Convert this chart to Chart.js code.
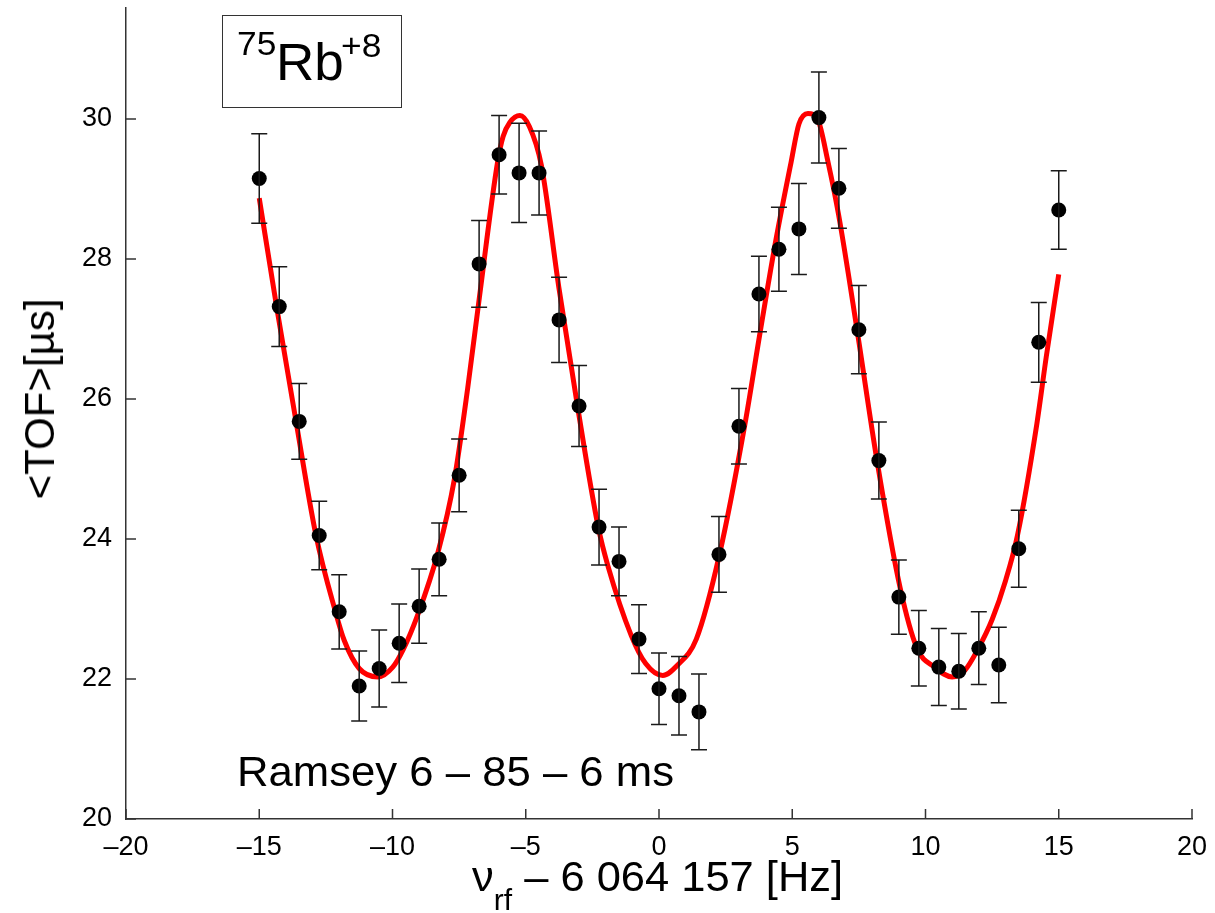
<!DOCTYPE html>
<html>
<head>
<meta charset="utf-8">
<script src="https://cdn.jsdelivr.net/npm/chart.js@4/dist/chart.umd.min.js"></script>
<style>
  html, body { margin: 0; padding: 0; background: #ffffff; }
  #wrap { position: relative; width: 1215px; height: 913px; overflow: hidden;
          font-family: "Liberation Sans", Arial, Helvetica, sans-serif; color: #000; }
  #c { position: absolute; left: 0; top: 0; }
  .lbl { position: absolute; white-space: nowrap; line-height: 1; transform-origin: 0 0; }
  #ylab { font-size: 42px; left: 40px; top: 399px; transform-origin: 50% 50%;
          transform: translate(-50%, -50%) rotate(-90deg); }
  #xlab { font-size: 42px; left: 472px; top: 856px; transform: scaleX(1.035); }
  #xlab .sub { font-size: 29px; position: relative; top: 19px; }
  #ionbox { position: absolute; left: 222px; top: 15px; width: 180px; height: 93px;
            border: 1.5px solid #333; box-sizing: border-box; }
  #iso { font-size: 34px; left: 237px; top: 26px; transform: scaleX(1.04); }
  #elem { font-size: 51px; left: 276px; top: 37px; transform: scaleX(1.04); }
  #chg { font-size: 34px; left: 341px; top: 28px; transform: scaleX(1.04); }
  #note { font-size: 42px; left: 237px; top: 751px; transform: scaleX(1.04); }
</style>
</head>
<body>
<div id="wrap">
  <canvas id="c" width="1215" height="913"></canvas>
  <div id="ylab" class="lbl">&lt;TOF&gt;[µs]</div>
  <div id="xlab" class="lbl">ν<span class="sub">rf</span> – 6 064 157 [Hz]</div>
  <div id="ionbox"></div>
  <div id="iso" class="lbl">75</div>
  <div id="elem" class="lbl">Rb</div>
  <div id="chg" class="lbl">+8</div>
  <div id="note" class="lbl">Ramsey 6 – 85 – 6 ms</div>
</div>
<script>
// Measured time of flight versus rf detuning (Hz)
const freq = [-15, -14.25, -13.5, -12.75, -12, -11.25, -10.5, -9.75, -9, -8.25,
              -7.5, -6.75, -6, -5.25, -4.5, -3.75, -3, -2.25, -1.5, -0.75,
              0, 0.75, 1.5, 2.25, 3, 3.75, 4.5, 5.25, 6, 6.75,
              7.5, 8.25, 9, 9.75, 10.5, 11.25, 12, 12.75, 13.5, 14.25, 15];
const tof = [29.15, 27.32, 25.68, 24.05, 22.96, 21.90, 22.15, 22.51, 23.04, 23.71,
             24.91, 27.93, 29.49, 29.23, 29.23, 27.13, 25.90, 24.17, 23.68, 22.57,
             21.86, 21.76, 21.53, 23.78, 25.61, 27.50, 28.14, 28.43, 30.02, 29.01,
             26.99, 25.12, 23.17, 22.44, 22.17, 22.11, 22.44, 22.20, 23.86, 26.81, 28.70];
const tofErr = [0.64, 0.57, 0.54, 0.49, 0.53, 0.50, 0.55, 0.56, 0.53, 0.52,
                0.52, 0.62, 0.56, 0.71, 0.60, 0.61, 0.58, 0.54, 0.49, 0.49,
                0.51, 0.56, 0.54, 0.54, 0.54, 0.54, 0.60, 0.65, 0.65, 0.57,
                0.63, 0.55, 0.53, 0.54, 0.55, 0.54, 0.52, 0.54, 0.55, 0.57, 0.56];

// Ramsey fit curve, sampled along the fitted line
const fitFreq = [-15.00, -14.35, -13.62, -12.87, -12.14, -11.81, -11.25, -10.55, -9.99, -9.60,
                 -9.05, -8.30, -7.68, -7.18, -6.74, -6.05, -5.85, -5.60, -5.22, -4.86,
                 -4.42, -3.76, -3.08, -2.28, -1.92, -1.04, -0.50, 0.14, 0.70, 1.40,
                 2.27, 3.21, 3.81, 4.40, 4.96, 5.25, 5.59, 5.96, 6.34, 6.74,
                 7.43, 8.18, 9.05, 9.68, 10.34, 11.00, 11.47, 12.00, 12.50, 13.00,
                 13.45, 14.18, 14.53, 15.00];
const fitTof = [28.87, 27.32, 25.68, 24.05, 22.96, 22.55, 22.15, 22.03, 22.17, 22.42,
                22.92, 23.80, 24.85, 26.15, 27.45, 29.40, 29.75, 29.95, 30.05, 29.89,
                29.35, 27.60, 25.95, 24.17, 23.62, 22.62, 22.22, 22.05, 22.20, 22.57,
                23.78, 25.61, 26.99, 28.30, 29.39, 29.93, 30.08, 29.99, 29.39, 28.63,
                26.99, 25.12, 23.30, 22.44, 22.17, 22.03, 22.12, 22.45, 22.85, 23.40,
                24.05, 25.65, 26.60, 27.78];

const xTicks = [-20, -15, -10, -5, 0, 5, 10, 15, 20];
const yTicks = [20, 22, 24, 26, 28, 30];

const FONT = '"Liberation Sans", Arial, Helvetica, sans-serif';
const AXIS_COLOR = '#333333';

const fmtTick = v => (v < 0 ? '\u2013' + Math.abs(v) : String(v));

// Vertical error bars with caps
const errorBars = {
  id: 'errorBars',
  afterDatasetsDraw(chart) {
    const { ctx, scales: { x, y } } = chart;
    const cap = 8;
    ctx.save();
    ctx.strokeStyle = '#1a1a1a';
    ctx.lineWidth = 1.5;
    freq.forEach((f, i) => {
      const px = x.getPixelForValue(f);
      const hi = y.getPixelForValue(tof[i] + tofErr[i]);
      const lo = y.getPixelForValue(tof[i] - tofErr[i]);
      ctx.beginPath();
      ctx.moveTo(px, hi); ctx.lineTo(px, lo);
      ctx.moveTo(px - cap, hi); ctx.lineTo(px + cap, hi);
      ctx.moveTo(px - cap, lo); ctx.lineTo(px + cap, lo);
      ctx.stroke();
    });
    ctx.restore();
  }
};

// Tick marks pointing into the plot area
const innerTicks = {
  id: 'innerTicks',
  afterDraw(chart) {
    const { ctx, chartArea: a, scales: { x, y } } = chart;
    const len = 10;
    ctx.save();
    ctx.strokeStyle = AXIS_COLOR;
    ctx.lineWidth = 1.5;
    ctx.beginPath();
    x.ticks.forEach(t => {
      const px = x.getPixelForValue(t.value);
      ctx.moveTo(px, a.bottom); ctx.lineTo(px, a.bottom - len);
    });
    y.ticks.forEach(t => {
      const py = y.getPixelForValue(t.value);
      ctx.moveTo(a.left, py); ctx.lineTo(a.left + len, py);
    });
    ctx.stroke();
    ctx.restore();
  }
};

const noPad = s => { s.paddingLeft = 0; s.paddingRight = 0; s.paddingTop = 0; s.paddingBottom = 0; };

new Chart(document.getElementById('c'), {
  type: 'scatter',
  data: {
    datasets: [
      {
        type: 'line',
        label: 'fit',
        data: fitFreq.map((f, i) => ({ x: f, y: fitTof[i] })),
        borderColor: '#ff0000',
        borderWidth: 5,
        pointRadius: 0,
        fill: false,
        cubicInterpolationMode: 'monotone',
        borderJoinStyle: 'round',
        borderCapStyle: 'butt',
        order: 2
      },
      {
        type: 'scatter',
        label: 'TOF',
        data: freq.map((f, i) => ({ x: f, y: tof[i] })),
        backgroundColor: '#000000',
        borderColor: '#000000',
        borderWidth: 0,
        pointRadius: 7.5,
        pointHoverRadius: 7.5,
        order: 1
      }
    ]
  },
  options: {
    responsive: false,
    animation: false,
    devicePixelRatio: 1,
    layout: { padding: { top: 8, right: 23, left: 0, bottom: 0 } },
    plugins: { legend: { display: false }, tooltip: { enabled: false } },
    scales: {
      x: {
        type: 'linear',
        position: 'bottom',
        min: -20, max: 20,
        afterBuildTicks: s => { s.ticks = xTicks.map(v => ({ value: v })); },
        afterFit: s => { s.height = 94; noPad(s); },
        grid: { display: false, drawTicks: false },
        border: { display: true, color: AXIS_COLOR, width: 1.5 },
        ticks: {
          font: { family: FONT, size: 27 },
          color: '#000',
          padding: 12,
          maxRotation: 0,
          autoSkip: false,
          callback: v => fmtTick(v)
        }
      },
      y: {
        type: 'linear',
        min: 20, max: 31.586,
        afterBuildTicks: s => { s.ticks = yTicks.map(v => ({ value: v })); },
        afterFit: s => { s.width = 126; noPad(s); },
        grid: { display: false, drawTicks: false },
        border: { display: true, color: AXIS_COLOR, width: 1.5 },
        ticks: {
          font: { family: FONT, size: 27 },
          color: '#000',
          padding: 14,
          autoSkip: false,
          callback: v => fmtTick(v)
        }
      }
    }
  },
  plugins: [errorBars, innerTicks]
});
</script>
</body>
</html>
